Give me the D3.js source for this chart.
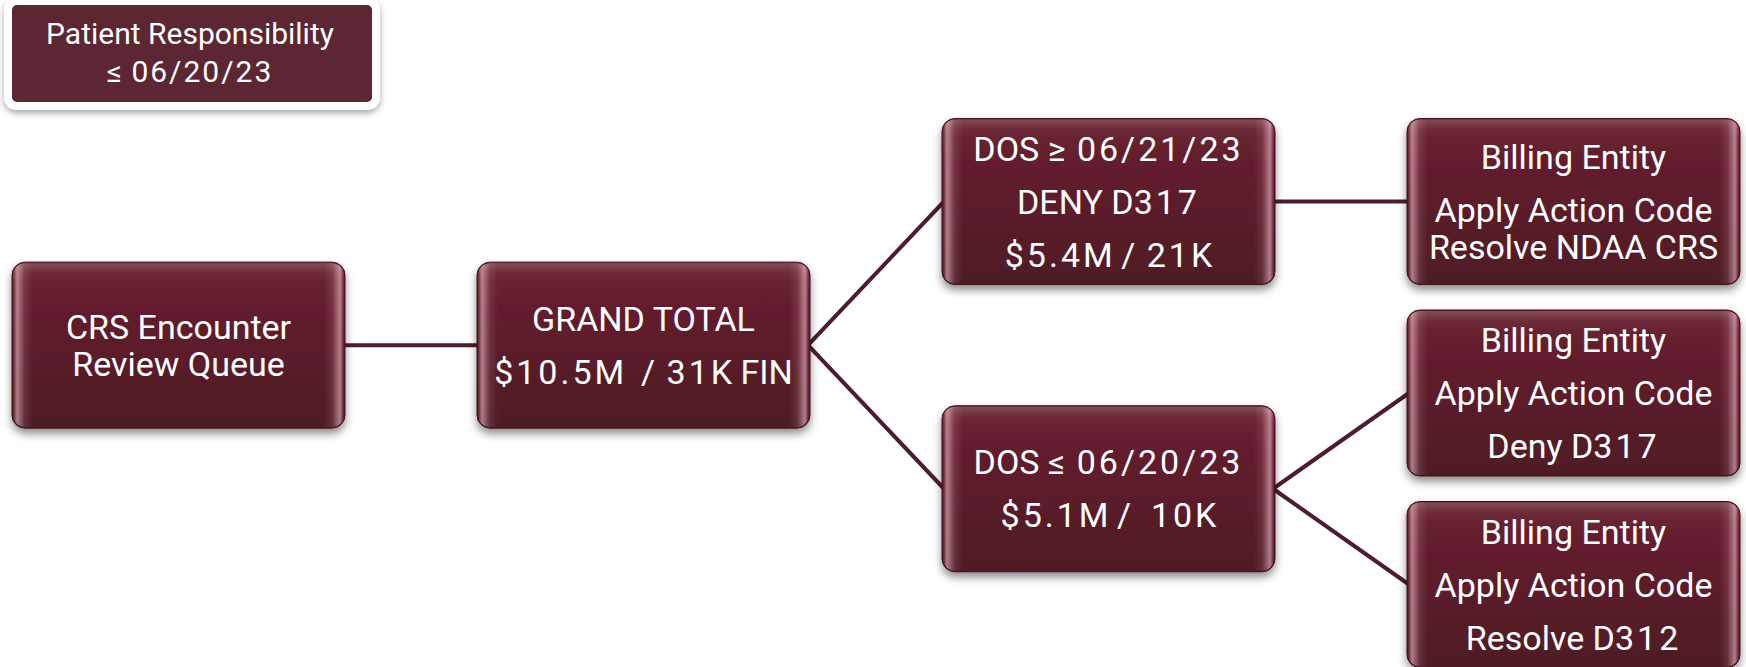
<!DOCTYPE html>
<html>
<head>
<meta charset="utf-8">
<script src="https://cdn.jsdelivr.net/npm/d3@7"></script>
<style>
  body { margin: 0; background: #fff; }
  svg { display: block; }
  text { font-family: Roboto, 'Liberation Sans', sans-serif; fill: #fff; white-space: pre; }
</style>
</head>
<body>
<svg width="1746" height="667"><defs></defs><g class="links"></g><g class="nodes"></g><g class="note"></g></svg>
<script>
// tree nodes: id, parent, and paragraphs (each paragraph = wrapped lines)
const nodeIds = ['queue', 'total', 'after', 'before', 'resolveCrs', 'deny317', 'resolve312']
const parentIds = [null, 'queue', 'total', 'total', 'after', 'before', 'before']
const nodeText = [
    [['CRS Encounter', 'Review Queue']],
    [['GRAND TOTAL'], ['$10.5M  / 31K FIN']],
    [['DOS \u2265 06/21/23'], ['DENY D317'], ['$5.4M / 21K']],
    [['DOS \u2264 06/20/23'], ['$5.1M /  10K']],
    [['Billing Entity'], ['Apply Action Code', 'Resolve NDAA CRS']],
    [['Billing Entity'], ['Apply Action Code'], ['Deny D317']],
    [['Billing Entity'], ['Apply Action Code'], ['Resolve D312']]
]
const noteText = ['Patient Responsibility', '\u2264 06/20/23']

// digits in the original font run wider than Roboto's, so space those runs out a bit
function fillRuns(sel, spacing) {
    sel.each(function (t) {
        const runs = t.split(/([0-9$\/.\u2264\u2265]+)/).filter(s => s.length)
        d3.select(this).selectAll('tspan')
            .data(runs)
            .join('tspan')
            .style('letter-spacing', r => /[0-9$\/.\u2264\u2265]/.test(r) ? spacing + 'px' : null)
            .text(r => r)
    })
}

function render() {
    const svg = d3.select('svg')
    const defs = svg.select('defs')
    const boxW = 333, boxH = 166
    const fontSize = 34, lineGap = 37, paraGap = 53

    // fills and effects
    const vg = defs.append('linearGradient').attr('id', 'boxFill')
        .attr('x1', 0).attr('y1', 0).attr('x2', 0).attr('y2', 1)
    vg.append('stop').attr('offset', '0%').attr('stop-color', '#6a2131')
    vg.append('stop').attr('offset', '100%').attr('stop-color', '#4e1a24')

    const bevel = defs.append('linearGradient').attr('id', 'bevel')
        .attr('x1', 0).attr('y1', 0).attr('x2', 1).attr('y2', 0)
    ;[[0, .0], [1.2, .55], [3.5, .12], [6, 0], [94, 0], [96.5, .12], [98.8, .55], [100, 0]].forEach(function (s) {
        bevel.append('stop').attr('offset', s[0] + '%').attr('stop-color', '#ffd0da').attr('stop-opacity', s[1])
    })
    const shine = defs.append('linearGradient').attr('id', 'shine')
        .attr('x1', 0).attr('y1', 0).attr('x2', 0).attr('y2', 1)
    ;[[0, .18], [6, .04], [12, 0], [100, 0]].forEach(function (s) {
        shine.append('stop').attr('offset', s[0] + '%').attr('stop-color', '#fff').attr('stop-opacity', s[1])
    })

    const sh = defs.append('filter').attr('id', 'shadow')
        .attr('x', '-10%').attr('y', '-10%').attr('width', '120%').attr('height', '130%')
    sh.append('feDropShadow').attr('dx', 0).attr('dy', 5).attr('stdDeviation', 4)
        .attr('flood-color', '#000').attr('flood-opacity', .45)

    const sh2 = defs.append('filter').attr('id', 'shadow2')
        .attr('x', '-10%').attr('y', '-10%').attr('width', '120%').attr('height', '130%')
    sh2.append('feDropShadow').attr('dx', 0).attr('dy', 3).attr('stdDeviation', 3)
        .attr('flood-color', '#000').attr('flood-opacity', .35)

    // hierarchy
    const table = nodeIds.map((id, i) => ({ id: id, parent: parentIds[i], paras: nodeText[i] }))
    const root = d3.stratify().id(d => d.id).parentId(d => d.parent)(table)
    d3.tree().nodeSize([191.5, 465]).separation(() => 1)(root)

    const nodes = root.descendants()
    const minX = d3.min(nodes, d => d.x)
    const yScale = d3.scaleLinear().domain([minX, minX + 1]).range([201.5, 202.5])
    const xScale = d3.scaleLinear().domain([0, 1]).range([12, 13])

    nodes.forEach(function (d) {
        d.left = xScale(d.y)
        d.cy = yScale(d.x)
    })

    // connectors
    svg.select('g.links').selectAll('path')
        .data(root.links())
        .join('path')
        .attr('d', l => `M${l.source.left + boxW - 2},${l.source.cy}L${l.target.left + 2},${l.target.cy}`)
        .style('stroke', '#4b1e29')
        .style('stroke-width', 4)
        .style('fill', 'none')

    // boxes
    const g = svg.select('g.nodes').selectAll('g')
        .data(nodes)
        .join('g')
        .attr('transform', d => `translate(${d.left},${d.cy - boxH / 2})`)

    g.append('rect')
        .attr('width', boxW).attr('height', boxH).attr('rx', 13)
        .style('fill', 'url(#boxFill)')
        .style('stroke', '#3e1219').style('stroke-width', 1)
        .attr('filter', 'url(#shadow)')
    g.append('rect')
        .attr('x', 1).attr('y', 1).attr('width', boxW - 2).attr('height', boxH - 2).attr('rx', 12)
        .style('fill', 'url(#bevel)')
    g.append('rect')
        .attr('x', 1).attr('y', 1).attr('width', boxW - 2).attr('height', boxH - 2).attr('rx', 12)
        .style('fill', 'url(#shine)')

    g.each(function (d) {
        const lines = []
        let y = 0
        d.data.paras.forEach(function (p) {
            p.forEach(function (t, li) {
                if (lines.length) y += li === 0 ? paraGap : lineGap
                lines.push({ t: t, y: y })
            })
        })
        const capH = fontSize * 0.71
        const first = boxH / 2 - y / 2 + capH / 2
        d3.select(this).selectAll('text')
            .data(lines)
            .join('text')
            .attr('x', boxW / 2)
            .attr('y', l => first + l.y)
            .attr('text-anchor', 'middle')
            .style('font-size', fontSize + 'px')
            .datum(l => l.t)
            .call(fillRuns, 3)
    })

    // note box
    const note = svg.select('g.note')
    note.append('rect')
        .attr('x', 8).attr('y', 1).attr('width', 368).attr('height', 105).attr('rx', 9)
        .style('fill', '#5b2832')
        .style('stroke', '#fff').style('stroke-width', 8)
        .attr('filter', 'url(#shadow2)')
    note.selectAll('text')
        .data(noteText)
        .join('text')
        .attr('x', 190)
        .attr('y', (t, i) => 44 + i * 38)
        .attr('text-anchor', 'middle')
        .style('font-size', '30px')
        .call(fillRuns, 2)
}

render()
</script>
</body>
</html>
